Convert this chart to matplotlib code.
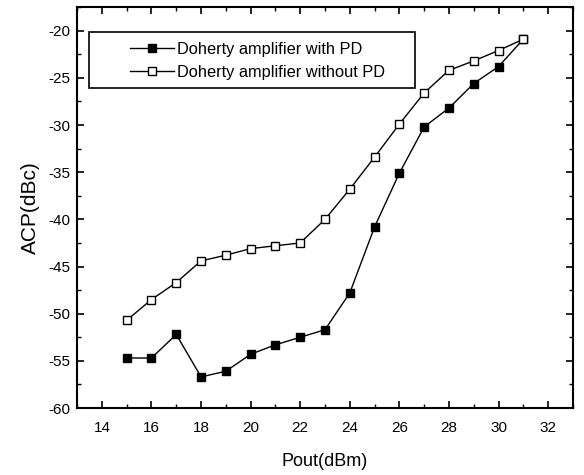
"""ACP vs Pout for Doherty amplifier with / without PD"""

import matplotlib
matplotlib.use('Agg')
from matplotlib import pyplot as plt
from matplotlib.patches import Rectangle
from matplotlib.ticker import MultipleLocator

plt.rcParams['font.family'] = ['Liberation Sans', 'DejaVu Sans']
plt.rcParams['axes.unicode_minus'] = False

# Data
pout = [15, 16, 17, 18, 19, 20, 21, 22, 23, 24, 25, 26, 27, 28, 29, 30, 31]
acp_with_pd = [-54.7, -54.7, -52.2, -56.7, -56.1, -54.3, -53.3, -52.5, -51.7,
               -47.8, -40.8, -35.1, -30.2, -28.2, -25.6, -23.8, -20.9]
acp_without_pd = [-50.7, -48.5, -46.7, -44.4, -43.8, -43.1, -42.8, -42.5, -40.0,
                  -36.8, -33.4, -29.9, -26.6, -24.2, -23.2, -22.1, -20.9]
labels = ['Doherty amplifier with PD', 'Doherty amplifier without PD']

fig = plt.figure(figsize=(5.84, 4.75), dpi=100)
ax = fig.add_axes([0.132, 0.141, 0.849, 0.844])

ax.plot(pout, acp_with_pd, '-s', color='black', lw=1, ms=6,
        mfc='black', label=labels[0])
ax.plot(pout, acp_without_pd, '-s', color='black', lw=1, ms=6,
        mfc='white', label=labels[1])

ax.set_xlim(13, 33)
ax.set_ylim(-60, -17.5)
ax.xaxis.set_major_locator(MultipleLocator(2))
ax.xaxis.set_minor_locator(MultipleLocator(1))
ax.yaxis.set_major_locator(MultipleLocator(5))
ax.yaxis.set_minor_locator(MultipleLocator(2.5))
ax.tick_params(which='both', direction='in', top=True, right=True, labelsize=11)
ax.tick_params(which='major', length=5, width=1.2)
ax.tick_params(which='minor', length=3, width=1)
ax.tick_params(axis='x', pad=9)
ax.tick_params(axis='y', pad=5)
for s in ax.spines.values():
    s.set_linewidth(1.5)

ax.set_xlabel('Pout(dBm)', fontsize=13, labelpad=13)
ax.set_ylabel('ACP(dBc)', fontsize=15, labelpad=6)

# legend box is wider than the entries, so draw the frame separately
leg = ax.legend(loc='upper left', bbox_to_anchor=(0.107, 0.913), fontsize=11.8,
                frameon=False, handlelength=2.68, handletextpad=0.2,
                borderpad=0, labelspacing=0.5, borderaxespad=0)
ax.add_patch(Rectangle((0.024, 0.798), 0.657, 0.140, transform=ax.transAxes,
                       facecolor='none', edgecolor='black', lw=1.2, zorder=5))

plt.savefig('out.png', dpi=100)
